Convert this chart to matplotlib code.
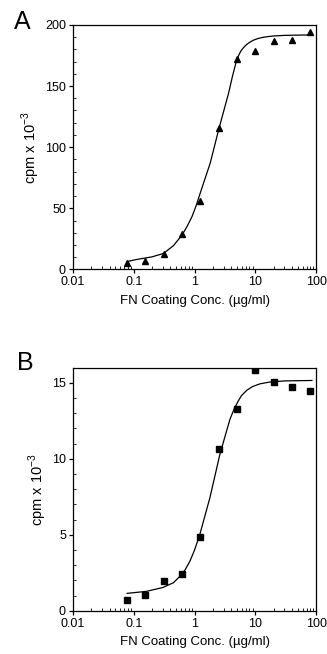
import matplotlib
matplotlib.use("Agg")
import matplotlib.pyplot as plt
from matplotlib.ticker import MultipleLocator, LogLocator, FixedLocator

plt.rcParams['font.family'] = ['Liberation Sans', 'DejaVu Sans']

# FN coating concentrations (ug/ml), twofold dilutions
conc = [0.078, 0.156, 0.3125, 0.625, 1.25, 2.5, 5, 10, 20, 40, 80]

# panel A data points (cpm x 10^-3)
cpm_a = [4.9, 7.0, 12.8, 29.0, 56.0, 115.5, 172.0, 179.0, 187.0, 187.5, 194.5]
# panel B data points (cpm x 10^-3)
cpm_b = [0.73, 1.05, 1.98, 2.43, 4.83, 10.67, 13.27, 15.87, 15.03, 14.73, 14.47]

# fitted curves
fit_a_x = [0.078, 0.113, 0.2, 0.309, 0.45, 0.621, 0.75, 0.906, 1.05, 1.24, 1.81,
           2.48, 3.62, 4.2, 4.85, 5.3, 5.8, 6.4, 7.2, 8.2, 9.33, 11, 13, 15.5, 20, 30, 85]
fit_a_y = [6.5, 8.2, 10.3, 13.1, 19.5, 28.1, 35.0, 43.1, 51.5, 62.5, 87.0,
           114.0, 144.0, 158.0, 170.0, 175.0, 178.8, 181.5, 184.0, 186.0, 187.5,
           188.8, 189.7, 190.3, 190.9, 191.4, 191.8]
fit_b_x = [0.078, 0.162, 0.304, 0.45, 0.573, 0.7, 0.837, 1.0, 1.22, 1.79, 2.61,
           3.82, 4.5, 5.23, 5.9, 7.19, 9, 11.9, 17.4, 30, 85]
fit_b_y = [1.15, 1.28, 1.54, 1.85, 2.27, 2.7, 3.26, 4.0, 5.02, 7.45, 10.3,
           12.6, 13.3, 13.8, 14.15, 14.5, 14.75, 14.93, 15.05, 15.12, 15.15]

xticks = [0.01, 0.1, 1, 10, 100]
xtick_labels = ['0.01', '0.1', '1', '10', '100']

fig = plt.figure(figsize=(3.27, 6.54), dpi=100)
ax_a = fig.add_axes([0.223, 0.588, 0.744, 0.374])
ax_b = fig.add_axes([0.223, 0.066, 0.744, 0.372])


def style_axes(ax, ymax, yticks, yminor):
    ax.set_xscale('log')
    ax.set_xlim(0.01, 100)
    ax.set_ylim(0, ymax)
    ax.xaxis.set_major_locator(FixedLocator(xticks))
    ax.set_xticklabels(xtick_labels)
    ax.xaxis.set_minor_locator(LogLocator(base=10, subs=range(2, 10)))
    ax.set_yticks(yticks)
    ax.yaxis.set_minor_locator(MultipleLocator(yminor))
    ax.tick_params(which='major', direction='out', length=3, width=0.9,
                   labelsize=9, pad=2)
    ax.tick_params(which='minor', direction='in', length=2, width=0.6)
    for s in ax.spines.values():
        s.set_linewidth(0.9)
    ax.set_xlabel('FN Coating Conc. (µg/ml)', fontsize=9.5, labelpad=4.5)
    ax.set_ylabel('cpm x 10$^{\\mathregular{-3}}$', fontsize=10.5, labelpad=2.5)


ax_a.plot(fit_a_x, fit_a_y, color='black', lw=0.9)
ax_a.plot(conc, cpm_a, linestyle='none', marker='^', color='black', markersize=4.8)
style_axes(ax_a, 200, [0, 50, 100, 150, 200], 10)

ax_b.plot(fit_b_x, fit_b_y, color='black', lw=0.9)
ax_b.plot(conc, cpm_b, linestyle='none', marker='s', color='black', markersize=4.6)
style_axes(ax_b, 16, [0, 5, 10, 15], 1)

fig.text(0.068, 0.966, 'A', fontsize=18, ha='center', va='center')
fig.text(0.078, 0.445, 'B', fontsize=18, ha='center', va='center')

fig.savefig('out.png', dpi=100)
